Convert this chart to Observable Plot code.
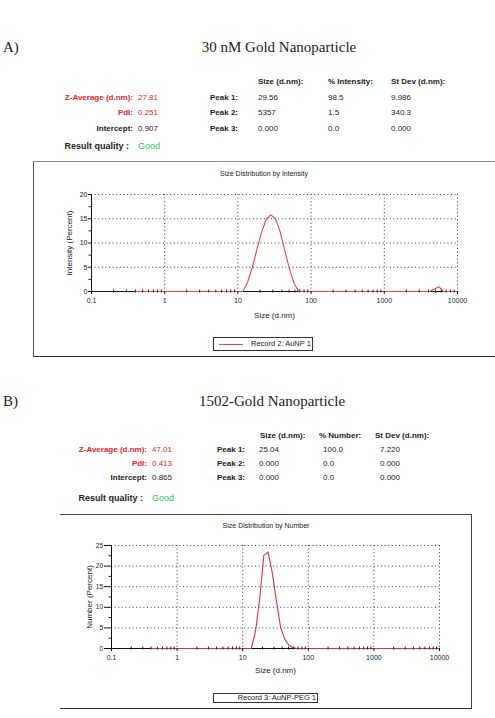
<!DOCTYPE html>
<html>
<head>
<meta charset="utf-8">
<script src="https://cdn.jsdelivr.net/npm/d3@7"></script>
<script src="https://cdn.jsdelivr.net/npm/@observablehq/plot@0.6"></script>
<style>
  body { margin: 0; background: #fff; }
  #page { position: relative; width: 495px; height: 718px; overflow: hidden; background: #fff;
          font-family: "Liberation Sans", Arial, sans-serif; color: #222; }
  .t { position: absolute; white-space: nowrap; }
  .box { position: absolute; box-sizing: border-box; }
  .chart { position: absolute; }
</style>
</head>
<body>
<div id="page"></div>
<script>
// Size axis (log scale, d.nm): decades and their labels
const sizeTicks = [0.1, 1, 10, 100, 1000, 10000];
const sizeTickLabels = ["0.1", "1", "10", "100", "1000", "10000"];
const sizeGrid = [1, 10, 100, 1000, 10000];

// Record 2: AuNP 1, size distribution by intensity (%)
const intensitySizes  = [0.4, 11.7, 13.5, 15.7, 18.2, 21.0, 24.4, 28.2, 32.7, 37.8, 43.8, 50.7, 58.8, 68.1, 4143, 4800, 5560, 6440, 10000];
const intensityValues = [0,   0,    1.8,  4.9,  8.7,  12.2, 14.9, 15.8, 15.0, 12.3, 8.4,  4.6,  1.6,  0,    0,    0.45, 1.0,  0,    0];
const intensityTicks = [0, 5, 10, 15, 20];
const intensityMinor = [2.5, 7.5, 12.5, 17.5];

// Record 3: AuNP-PEG 1, size distribution by number (%)
const numberSizes  = [0.4, 13.5, 15.7, 18.2, 21.0, 24.4, 28.2, 32.7, 37.8, 43.8, 50.7, 58.8, 68.1, 10000];
const numberValues = [0,   0,    4.2,  12.2, 22.6, 23.4, 18.4, 11.5, 5.2,  2.2,  0.8,  0.2,  0,    0];
const numberTicks = [0, 5, 10, 15, 20, 25];
const numberMinor = [2.5, 7.5, 12.5, 17.5, 22.5];

// Summary tables
const summaryLabels = ["Z-Average (d.nm):", "PdI:", "Intercept:"];
const summaryA = ["27.81", "0.251", "0.907"];
const summaryB = ["47.01", "0.413", "0.865"];
const peakLabels = ["Peak 1:", "Peak 2:", "Peak 3:"];
const peakHeadersA = ["Size (d.nm):", "% Intensity:", "St Dev (d.nm):"];
const peakHeadersB = ["Size (d.nm):", "% Number:", "St Dev (d.nm):"];
const peaksA = [["29.56", "98.5", "9.986"], ["5357", "1.5", "340.3"], ["0.000", "0.0", "0.000"]];
const peaksB = [["25.04", "100.0", "7.220"], ["0.000", "0.0", "0.000"], ["0.000", "0.0", "0.000"]];

const page = document.getElementById("page");
const RED = "#e8242c", GREEN = "#2fbf68";

function put(text, x, y, o = {}) {
  const size = o.size || 8;
  const d = document.createElement("div");
  d.className = "t";
  d.textContent = text;
  d.style.fontSize = size + "px";
  d.style.lineHeight = size + "px";
  d.style.top = (y - size / 2) + "px";
  if (o.family) d.style.fontFamily = o.family;
  if (o.color) d.style.color = o.color;
  if (o.weight) d.style.fontWeight = o.weight;
  if (o.align === "right") { d.style.left = (x - 300) + "px"; d.style.width = "300px"; d.style.textAlign = "right"; }
  else if (o.align === "center") { d.style.left = (x - 200) + "px"; d.style.width = "400px"; d.style.textAlign = "center"; }
  else d.style.left = x + "px";
  page.appendChild(d);
  return d;
}

function box(left, top, width, height, css) {
  const d = document.createElement("div");
  d.className = "box";
  Object.assign(d.style, {left: left + "px", top: top + "px", width: width + "px", height: height + "px"}, css);
  page.appendChild(d);
  return d;
}

function summary(cfg) {
  const serif = '"Liberation Serif", "Times New Roman", serif';
  put(cfg.letter, 3, cfg.titleY, {size: 15, family: serif});
  put(cfg.title, cfg.titleX, cfg.titleY, {size: 15, family: serif, align: "center"});
  cfg.headers.forEach((h, j) => put(h, cfg.cols[j], cfg.headerY, {weight: 600}));
  summaryLabels.forEach((lab, i) => {
    const c = i < 2 ? RED : "#222";
    put(lab, cfg.labelRight, cfg.rows[i], {align: "right", color: c, weight: 600});
    put(cfg.summary[i], cfg.labelRight + 5, cfg.rows[i], {color: c});
    put(peakLabels[i], cfg.peakX, cfg.rows[i], {weight: 600});
    cfg.peaks[i].forEach((v, j) => put(v, cfg.valCols[j], cfg.rows[i]));
  });
  put("Result quality :", cfg.labelRight - 4, cfg.qualityY, {align: "right", size: 9, weight: 700});
  put("Good", cfg.labelRight + 5, cfg.qualityY, {size: 9, color: GREEN});
}

const minorSizes = sizeTicks.slice(0, -1).flatMap(d => [2, 3, 4, 5, 6, 7, 8, 9].map(k => d * k));
const tickText = new Map(sizeTicks.map((t, i) => [t, sizeTickLabels[i]]));

function sizeChart(cfg) {
  const rows = cfg.sizes.map((size, i) => ({size, value: cfg.values[i]}));
  const dotted = {stroke: "#3a3a3a", strokeOpacity: 1, strokeWidth: 1, strokeDasharray: "1,2.6"};
  const svg = Plot.plot({
    width: cfg.width, height: cfg.height,
    marginLeft: cfg.m[0], marginRight: cfg.m[1], marginTop: cfg.m[2], marginBottom: cfg.m[3],
    style: {fontFamily: '"Liberation Sans", Arial, sans-serif', fontSize: "7px", background: "transparent", color: "#1a1a1a", overflow: "visible"},
    x: {type: "log", domain: [0.1, 10000]},
    y: {domain: [0, cfg.yTicks[cfg.yTicks.length - 1]]},
    marks: [
      Plot.gridX(sizeGrid, dotted),
      Plot.gridY(cfg.yTicks.slice(1), dotted),
      Plot.ruleX([0.1], {stroke: "#111"}),
      Plot.ruleY([0], {stroke: "#111"}),
      Plot.line(rows, {x: "size", y: "value", stroke: cfg.stroke, strokeWidth: 1.1}),
      Plot.axisX(minorSizes, {tickSize: 3, dy: -1.5, tickFormat: () => "", label: null, stroke: "#222"}),
      Plot.axisX(sizeTicks, {tickSize: 3, tickPadding: 3.5, tickFormat: d => tickText.get(d), label: null, fontSize: 7, stroke: "#111"}),
      Plot.axisY(cfg.yMinor, {tickSize: 2.5, tickFormat: () => "", label: null, stroke: "#222"}),
      Plot.axisY(cfg.yTicks, {tickSize: cfg.yTickSize, tickPadding: cfg.yTickPadding, label: null, fontSize: cfg.yFont, stroke: "#111"}),
      Plot.text([cfg.xLabel], {frameAnchor: "bottom", lineAnchor: "middle", textAnchor: "middle", dy: cfg.xLabelDy, fontSize: 8}),
      Plot.text([cfg.yLabel], {frameAnchor: "left", lineAnchor: "middle", textAnchor: "middle", rotate: -90, dx: cfg.yLabelDx, fontSize: 8})
    ]
  });
  svg.classList.add("chart");
  svg.style.left = cfg.left + "px";
  svg.style.top = cfg.top + "px";
  page.appendChild(svg);
}

// ---- A) 30 nM Gold Nanoparticle ----
summary({
  letter: "A)", title: "30 nM Gold Nanoparticle", titleX: 279, titleY: 47,
  headers: peakHeadersA, cols: [258, 328, 391], headerY: 82,
  summary: summaryA, rows: [98, 113, 129], labelRight: 133,
  peakX: 210, peaks: peaksA, valCols: [258, 328, 391], qualityY: 146
});
box(33, 161, 480, 196, {borderTop: "1.5px solid #8a8a8a", borderLeft: "1px solid #555", borderBottom: "1.5px solid #333"});
put("Size Distribution by Intensity", 264, 173, {size: 7, align: "center"});
sizeChart({
  left: 33, top: 180, width: 446, height: 150, m: [58, 22, 14, 39],
  sizes: intensitySizes, values: intensityValues, stroke: "#e4464a",
  yTicks: intensityTicks, yMinor: intensityMinor, yTickSize: 3, yTickPadding: 1, yFont: 7,
  xLabel: "Size (d.nm)", xLabelDy: 24, yLabel: "Intensity (Percent)", yLabelDx: -22
});
box(213, 337, 100, 14, {border: "1px solid #333"});
box(219, 343.5, 24, 1, {background: "#e4464a"});
put("Record 2: AuNP 1", 251, 344, {size: 7.5});

// ---- B) 1502-Gold Nanoparticle ----
summary({
  letter: "B)", title: "1502-Gold Nanoparticle", titleX: 272, titleY: 401,
  headers: peakHeadersB, cols: [260, 319, 375], headerY: 436,
  summary: summaryB, rows: [450, 464, 478], labelRight: 147,
  peakX: 217, peaks: peaksB, valCols: [259, 323, 380], qualityY: 498
});
box(60, 514, 412, 195, {borderTop: "1px solid #444", borderRight: "1px solid #444", borderBottom: "1.5px solid #333"});
put("Size Distribution by Number", 266, 525, {size: 7, align: "center"});
sizeChart({
  left: 61, top: 530, width: 411, height: 148, m: [50, 33, 15, 30],
  sizes: numberSizes, values: numberValues, stroke: "#d3353a",
  yTicks: numberTicks, yMinor: numberMinor, yTickSize: 7, yTickPadding: 1.5, yFont: 6.5,
  xLabel: "Size (d.nm)", xLabelDy: 22, yLabel: "Number (Percent)", yLabelDx: -22
});
box(213, 693, 105, 10, {border: "1px solid #333"});
put("Record 3: AuNP-PEG 1", 316, 698, {size: 7.5, align: "right"});
</script>
</body>
</html>
